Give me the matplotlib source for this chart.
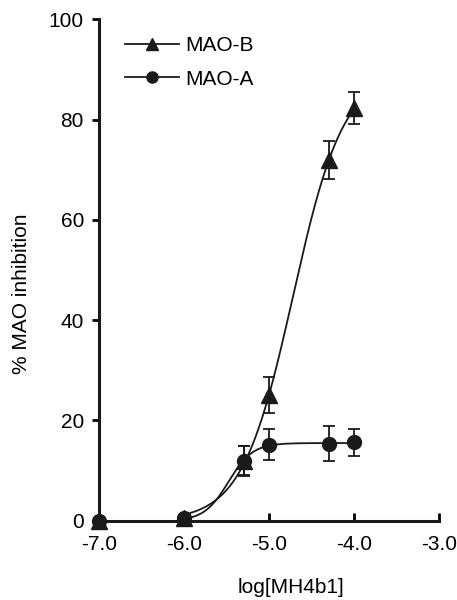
import numpy as np
import matplotlib
matplotlib.use("Agg")
import matplotlib.pyplot as plt

plt.rcParams['font.family'] = ['Liberation Sans', 'DejaVu Sans']

# data
log_conc = [-7.0, -6.0, -5.3, -5.0, -4.3, -4.0]
mao_b = [0.0, 0.5, 12.0, 25.0, 72.0, 82.3]
mao_b_err = [0.0, 0.0, 3.0, 3.6, 3.8, 3.2]
mao_a = [0.0, 0.5, 12.0, 15.2, 15.4, 15.7]
mao_a_err = [0.0, 0.0, 2.9, 3.1, 3.4, 2.7]


def fit_logistic(x, y):
    # least squares dose-response fit (bottom = 0), brute force grid
    x = np.asarray(x)[:, None, None, None]
    y = np.asarray(y)[:, None, None, None]
    top = np.linspace(10, 120, 221)[None, :, None, None]
    lic = np.linspace(-6.0, -3.5, 126)[None, None, :, None]
    hill = np.linspace(0.5, 4.0, 71)[None, None, None, :]
    pred = top / (1 + 10 ** ((lic - x) * hill))
    sse = ((pred - y) ** 2).sum(axis=0)
    i, j, k = np.unravel_index(np.argmin(sse), sse.shape)
    return top[0, i, 0, 0], lic[0, 0, j, 0], hill[0, 0, 0, k]


def logistic(xs, p):
    return p[0] / (1 + 10 ** ((p[1] - xs) * p[2]))


fig = plt.figure(figsize=(4.57, 6.0), dpi=100)
ax = fig.add_axes([0.217, 0.132, 0.744, 0.836])

xs = np.linspace(log_conc[1], log_conc[-1], 300)
ax.plot(xs, logistic(xs, fit_logistic(log_conc, mao_b)), color='#1a1a1a', lw=1.3, zorder=2)
ax.plot(xs, logistic(xs, fit_logistic(log_conc, mao_a)), color='#1a1a1a', lw=1.3, zorder=2)

ax.errorbar(log_conc, mao_a, yerr=mao_a_err, fmt='o', color='#1a1a1a', ms=10,
            capsize=4.5, elinewidth=1.3, capthick=1.3, clip_on=False, zorder=3)
ax.errorbar(log_conc, mao_b, yerr=mao_b_err, fmt='^', color='#1a1a1a', ms=11,
            capsize=4.5, elinewidth=1.3, capthick=1.3, clip_on=False, zorder=4)

# legend entries
ax.plot([], [], '-^', color='#1a1a1a', ms=8, lw=1.3, label='MAO-B')
ax.plot([], [], '-o', color='#1a1a1a', ms=8, lw=1.3, label='MAO-A')
ax.legend(loc='upper left', frameon=False, fontsize=15, handlelength=2.6,
          handletextpad=0.3, labelspacing=0.7, bbox_to_anchor=(0.02, 1.004))

ax.set_xlim(-7, -3)
ax.set_ylim(0, 100)
ax.set_xticks([-7, -6, -5, -4, -3])
ax.set_xticklabels(['-7.0', '-6.0', '-5.0', '-4.0', '-3.0'])
ax.set_yticks([0, 20, 40, 60, 80, 100])
ax.tick_params(axis='x', direction='in', length=6, width=2, labelsize=15, pad=10)
ax.tick_params(axis='y', direction='out', length=5, width=2, labelsize=15, pad=6)
for s in ['top', 'right']:
    ax.spines[s].set_visible(False)
for s in ['left', 'bottom']:
    ax.spines[s].set_linewidth(2.2)
    ax.spines[s].set_color('#1a1a1a')

ax.set_xlabel('log[MH4b1]', fontsize=15)
ax.xaxis.set_label_coords(0.565, -0.115)
ax.set_ylabel('% MAO inhibition', fontsize=15)
ax.yaxis.set_label_coords(-0.2, 0.452)

fig.savefig('out.png', dpi=100)
